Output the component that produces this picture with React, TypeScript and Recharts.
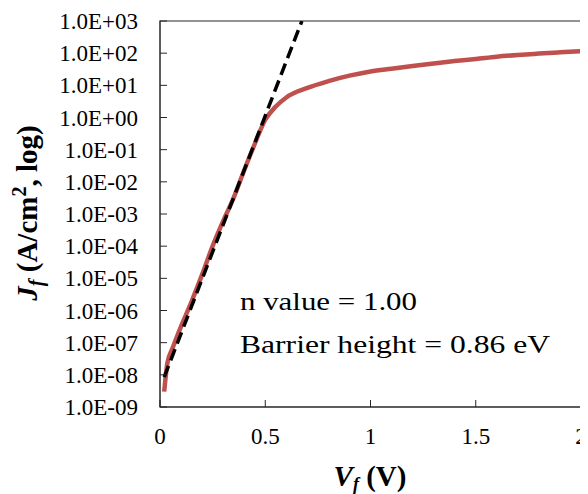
import React from 'react';
import { LineChart, Line, XAxis, YAxis, ReferenceArea, Label } from 'recharts';

// measured forward J-V curve (V in volts, J in A/cm2)
const measuredV = [0.02, 0.035, 0.06, 0.1, 0.15, 0.2, 0.25, 0.3, 0.35, 0.4, 0.45, 0.5, 0.55, 0.6, 0.7, 0.8, 0.9, 1.0, 1.1, 1.2, 1.3, 1.4, 1.5, 1.6, 1.7, 1.8, 1.9, 2.0];
const measuredJ = [3.0e-9, 2.3e-8, 6.8e-8, 3.2e-7, 1.9e-6, 1.3e-5, 1.0e-4, 6.0e-4, 3.2e-3, 2.3e-2, 0.15, 0.85, 2.2, 4.2, 8.3, 13.5, 20, 27, 33, 40, 48, 57, 66, 78, 88, 97, 106, 115];

// ideal diode fit (n = 1), straight on the log axis
const fitV = [0.02, 0.674];
const fitJ = [8.5e-9, 1000];

const xTicks = [0, 0.5, 1, 1.5, 2];
const yTicks = [1e-9, 1e-8, 1e-7, 1e-6, 1e-5, 1e-4, 1e-3, 1e-2, 1e-1, 1, 1e1, 1e2, 1e3];
const notes = ['n value = 1.00', 'Barrier height = 0.86 eV'];

const measured = measuredV.map((v, i) => ({ v, j: measuredJ[i] }));
const fit = fitV.map((v, i) => ({ v, j: fitJ[i] }));

const serif = '"Liberation Serif", "Times New Roman", serif';

const sciFormat = (val: number) => {
  const e = Math.round(Math.log10(val));
  return `1.0E${e < 0 ? '-' : '+'}${String(Math.abs(e)).padStart(2, '0')}`;
};

const yTitle = () => (
  <text
    x={29}
    y={205}
    transform="rotate(-90 29 205)"
    textAnchor="middle"
    fontFamily={serif}
    fontWeight="bold"
    fontSize={29}
    fill="#000"
  >
    <tspan fontStyle="italic">J</tspan>
    <tspan fontStyle="italic" fontSize={20} dy={6}>f</tspan>
    <tspan dy={-6}> (A/cm</tspan>
    <tspan fontSize={20} dy={-11}>2</tspan>
    <tspan dy={11}>, log)</tspan>
  </text>
);

const xTitle = () => (
  <text x={362} y={478} textAnchor="middle" fontFamily={serif} fontWeight="bold" fontSize={29} fill="#000">
    <tspan fontStyle="italic">V</tspan>
    <tspan fontStyle="italic" fontSize={18} dy={4}>f</tspan>
    <tspan dy={-4}> (V)</tspan>
  </text>
);

// the original uses a wide Century-like face; stretch Times to the same width
const noteText = () => (
  <g fontFamily={serif} fontSize={26} fill="#000">
    <text x={232} y={302} textLength={177} lengthAdjust="spacingAndGlyphs">{notes[0]}</text>
    <text x={232} y={345} textLength={310} lengthAdjust="spacingAndGlyphs">{notes[1]}</text>
  </g>
);

export default function App() {
  return (
    <LineChart width={580} height={486} margin={{ top: 13, right: 7, left: 0, bottom: 0 }}>
      <XAxis
        dataKey="v"
        type="number"
        domain={[0, 2]}
        ticks={xTicks}
        allowDataOverflow
        height={87}
        tickSize={-7}
        tickMargin={28}
        interval={0}
        stroke="#262626"
        tick={{ fontFamily: serif, fontSize: 23, fill: '#000' }}
      >
        <Label content={xTitle} />
      </XAxis>
      <YAxis
        type="number"
        scale="log"
        domain={[1e-9, 1e3]}
        ticks={yTicks}
        allowDataOverflow
        width={152}
        tickSize={-7}
        tickMargin={29}
        interval={0}
        stroke="#262626"
        tickFormatter={sciFormat}
        tick={{ fontFamily: serif, fontSize: 23, fill: '#000' }}
      >
        <Label content={yTitle} />
      </YAxis>
      <ReferenceArea x1={0} x2={2} y1={1e-9} y2={1e3} fill="none" stroke="#707070" strokeWidth={1.5}>
        <Label content={noteText} />
      </ReferenceArea>
      <Line
        data={measured}
        dataKey="j"
        type="monotone"
        stroke="#C0504D"
        strokeWidth={4.5}
        dot={false}
        isAnimationActive={false}
      />
      <Line
        data={fit}
        dataKey="j"
        type="linear"
        stroke="#000"
        strokeWidth={3.5}
        strokeDasharray="12 6"
        dot={false}
        isAnimationActive={false}
      />
    </LineChart>
  );
}
